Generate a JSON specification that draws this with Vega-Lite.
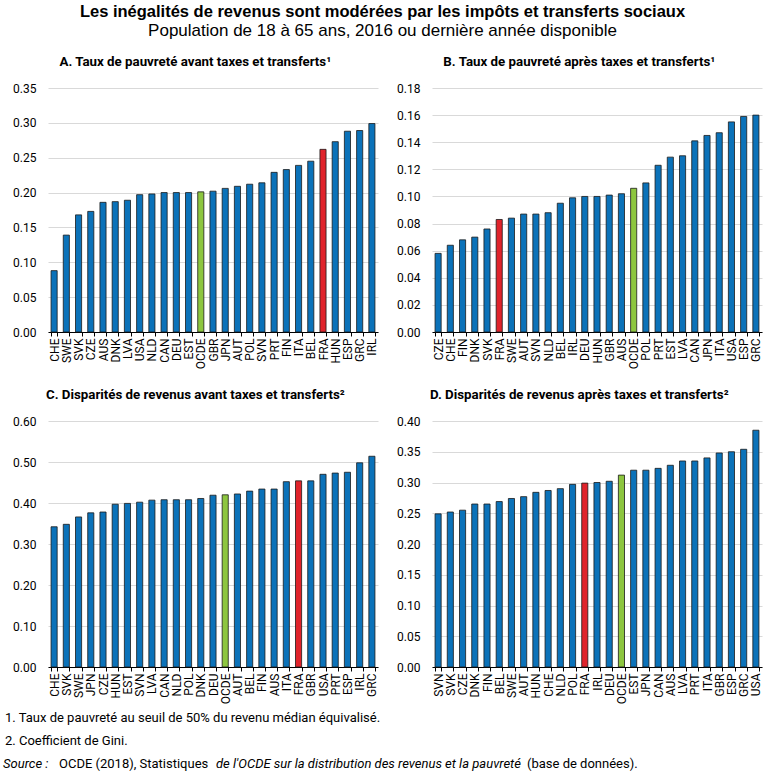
{
  "$schema": "https://vega.github.io/schema/vega-lite/v6.json",
  "padding": {"left": 3, "top": 4, "right": 3, "bottom": 0},
  "background": "white",
  "title": {
    "text": "Les inégalités de revenus sont modérées par les impôts et transferts sociaux",
    "subtitle": "Population de 18 à 65 ans, 2016 ou dernière année disponible",
    "anchor": "middle",
    "frame": "bounds",
    "font": "Liberation Sans",
    "fontSize": 16.5,
    "fontWeight": "bold",
    "color": "black",
    "subtitleFont": "Liberation Sans",
    "subtitleFontSize": 17,
    "subtitleColor": "black",
    "subtitlePadding": 2,
    "offset": 16
  },
  "config": {
    "view": {"stroke": null},
    "font": "Roboto",
    "axis": {"labelFont": "Roboto", "labelFontSize": 12, "labelColor": "black"},
    "axisX": {"title": null, "labelAngle": -90, "labelAlign": "right", "labelBaseline": "middle", "tickBand": "extent", "domainColor": "black", "tickColor": "black", "tickSize": 4, "labelPadding": 2, "grid": false},
    "axisY": {"title": null, "domain": false, "ticks": false, "gridColor": "#d9d9d9", "format": ".2f", "labelPadding": 12},
    "title": {"font": "Roboto", "fontSize": 13.3, "fontWeight": "bold", "color": "black", "offset": 14, "frame": "bounds", "anchor": "middle"},
    "bar": {"stroke": "#1a1a1a", "strokeWidth": 0.8},
    "scale": {"bandPaddingInner": 0.5, "bandPaddingOuter": 0.25}
  },
  "datasets": {
    "A": [
      {"pays": "CHE", "valeur": 0.088}, {"pays": "SWE", "valeur": 0.139}, {"pays": "SVK", "valeur": 0.168},
      {"pays": "CZE", "valeur": 0.173}, {"pays": "AUS", "valeur": 0.186}, {"pays": "DNK", "valeur": 0.187},
      {"pays": "LVA", "valeur": 0.189}, {"pays": "USA", "valeur": 0.197}, {"pays": "NLD", "valeur": 0.198},
      {"pays": "CAN", "valeur": 0.200}, {"pays": "DEU", "valeur": 0.200}, {"pays": "EST", "valeur": 0.200},
      {"pays": "OCDE", "valeur": 0.201}, {"pays": "GBR", "valeur": 0.202}, {"pays": "JPN", "valeur": 0.206},
      {"pays": "AUT", "valeur": 0.209}, {"pays": "POL", "valeur": 0.212}, {"pays": "SVN", "valeur": 0.214},
      {"pays": "PRT", "valeur": 0.229}, {"pays": "FIN", "valeur": 0.233}, {"pays": "ITA", "valeur": 0.239},
      {"pays": "BEL", "valeur": 0.245}, {"pays": "FRA", "valeur": 0.262}, {"pays": "HUN", "valeur": 0.273},
      {"pays": "ESP", "valeur": 0.288}, {"pays": "GRC", "valeur": 0.289}, {"pays": "IRL", "valeur": 0.299}
    ],
    "B": [
      {"pays": "CZE", "valeur": 0.058}, {"pays": "CHE", "valeur": 0.064}, {"pays": "FIN", "valeur": 0.068},
      {"pays": "DNK", "valeur": 0.070}, {"pays": "SVK", "valeur": 0.076}, {"pays": "FRA", "valeur": 0.083},
      {"pays": "SWE", "valeur": 0.084}, {"pays": "AUT", "valeur": 0.087}, {"pays": "SVN", "valeur": 0.087},
      {"pays": "NLD", "valeur": 0.088}, {"pays": "BEL", "valeur": 0.095}, {"pays": "IRL", "valeur": 0.099},
      {"pays": "DEU", "valeur": 0.100}, {"pays": "HUN", "valeur": 0.100}, {"pays": "GBR", "valeur": 0.101},
      {"pays": "AUS", "valeur": 0.102}, {"pays": "OCDE", "valeur": 0.106}, {"pays": "POL", "valeur": 0.110},
      {"pays": "PRT", "valeur": 0.123}, {"pays": "EST", "valeur": 0.129}, {"pays": "LVA", "valeur": 0.130},
      {"pays": "CAN", "valeur": 0.141}, {"pays": "JPN", "valeur": 0.145}, {"pays": "ITA", "valeur": 0.147},
      {"pays": "USA", "valeur": 0.155}, {"pays": "ESP", "valeur": 0.159}, {"pays": "GRC", "valeur": 0.160}
    ],
    "C": [
      {"pays": "CHE", "valeur": 0.342}, {"pays": "SVK", "valeur": 0.348}, {"pays": "SWE", "valeur": 0.366},
      {"pays": "JPN", "valeur": 0.376}, {"pays": "CZE", "valeur": 0.378}, {"pays": "HUN", "valeur": 0.397},
      {"pays": "EST", "valeur": 0.399}, {"pays": "SVN", "valeur": 0.402}, {"pays": "LVA", "valeur": 0.407},
      {"pays": "CAN", "valeur": 0.408}, {"pays": "NLD", "valeur": 0.408}, {"pays": "POL", "valeur": 0.408},
      {"pays": "DNK", "valeur": 0.411}, {"pays": "DEU", "valeur": 0.419}, {"pays": "OCDE", "valeur": 0.420},
      {"pays": "AUT", "valeur": 0.422}, {"pays": "BEL", "valeur": 0.429}, {"pays": "FIN", "valeur": 0.434},
      {"pays": "AUS", "valeur": 0.434}, {"pays": "ITA", "valeur": 0.452}, {"pays": "FRA", "valeur": 0.454},
      {"pays": "GBR", "valeur": 0.454}, {"pays": "USA", "valeur": 0.470}, {"pays": "PRT", "valeur": 0.473},
      {"pays": "ESP", "valeur": 0.475}, {"pays": "IRL", "valeur": 0.498}, {"pays": "GRC", "valeur": 0.514}
    ],
    "D": [
      {"pays": "SVN", "valeur": 0.249}, {"pays": "SVK", "valeur": 0.252}, {"pays": "CZE", "valeur": 0.255},
      {"pays": "DNK", "valeur": 0.265}, {"pays": "FIN", "valeur": 0.265}, {"pays": "BEL", "valeur": 0.269},
      {"pays": "SWE", "valeur": 0.274}, {"pays": "AUT", "valeur": 0.277}, {"pays": "HUN", "valeur": 0.284},
      {"pays": "CHE", "valeur": 0.287}, {"pays": "NLD", "valeur": 0.290}, {"pays": "POL", "valeur": 0.297},
      {"pays": "FRA", "valeur": 0.299}, {"pays": "IRL", "valeur": 0.300}, {"pays": "DEU", "valeur": 0.302},
      {"pays": "OCDE", "valeur": 0.312}, {"pays": "EST", "valeur": 0.320}, {"pays": "JPN", "valeur": 0.320},
      {"pays": "CAN", "valeur": 0.323}, {"pays": "AUS", "valeur": 0.328}, {"pays": "LVA", "valeur": 0.335},
      {"pays": "PRT", "valeur": 0.335}, {"pays": "ITA", "valeur": 0.340}, {"pays": "GBR", "valeur": 0.348},
      {"pays": "ESP", "valeur": 0.350}, {"pays": "GRC", "valeur": 0.354}, {"pays": "USA", "valeur": 0.385}
    ],
    "notes": [
      {"ligne": 1, "texte": "1. Taux de pauvreté au seuil de 50% du revenu médian équivalisé."},
      {"ligne": 2, "texte": "2. Coefficient de Gini."}
    ]
  },
  "vconcat": [
    {
      "vconcat": [
        {
          "hconcat": [
            {
              "data": {"name": "A"},
              "width": 330, "height": 244,
              "title": "A. Taux de pauvreté avant taxes et transferts¹",
              "mark": {"type": "bar"},
              "encoding": {
                "x": {"field": "pays", "type": "nominal", "sort": null},
                "y": {"field": "valeur", "type": "quantitative", "scale": {"domain": [0, 0.35], "nice": false}, "axis": {"values": [0, 0.05, 0.1, 0.15, 0.2, 0.25, 0.3, 0.35]}},
                "color": {"condition": [{"test": "datum.pays === 'FRA'", "value": "#e0232b"}, {"test": "datum.pays === 'OCDE'", "value": "#8dc63f"}], "value": "#0b72b9"}
              }
            },
            {
              "data": {"name": "B"},
              "width": 330, "height": 244,
              "title": "B. Taux de pauvreté après taxes et transferts¹",
              "mark": {"type": "bar"},
              "encoding": {
                "x": {"field": "pays", "type": "nominal", "sort": null},
                "y": {"field": "valeur", "type": "quantitative", "scale": {"domain": [0, 0.18], "nice": false}, "axis": {"values": [0, 0.02, 0.04, 0.06, 0.08, 0.1, 0.12, 0.14, 0.16, 0.18]}},
                "color": {"condition": [{"test": "datum.pays === 'FRA'", "value": "#e0232b"}, {"test": "datum.pays === 'OCDE'", "value": "#8dc63f"}], "value": "#0b72b9"}
              }
            }
          ],
          "spacing": 18
        },
        {
          "hconcat": [
            {
              "data": {"name": "C"},
              "width": 330, "height": 246,
              "title": "C. Disparités de revenus avant taxes et transferts²",
              "mark": {"type": "bar"},
              "encoding": {
                "x": {"field": "pays", "type": "nominal", "sort": null},
                "y": {"field": "valeur", "type": "quantitative", "scale": {"domain": [0, 0.6], "nice": false}, "axis": {"values": [0, 0.1, 0.2, 0.3, 0.4, 0.5, 0.6]}},
                "color": {"condition": [{"test": "datum.pays === 'FRA'", "value": "#e0232b"}, {"test": "datum.pays === 'OCDE'", "value": "#8dc63f"}], "value": "#0b72b9"}
              }
            },
            {
              "data": {"name": "D"},
              "width": 330, "height": 246,
              "title": "D. Disparités de revenus après taxes et transferts²",
              "mark": {"type": "bar"},
              "encoding": {
                "x": {"field": "pays", "type": "nominal", "sort": null},
                "y": {"field": "valeur", "type": "quantitative", "scale": {"domain": [0, 0.4], "nice": false}, "axis": {"values": [0, 0.05, 0.1, 0.15, 0.2, 0.25, 0.3, 0.35, 0.4]}},
                "color": {"condition": [{"test": "datum.pays === 'FRA'", "value": "#e0232b"}, {"test": "datum.pays === 'OCDE'", "value": "#8dc63f"}], "value": "#0b72b9"}
              }
            }
          ],
          "spacing": 18
        }
      ],
      "spacing": 18
    },
    {
      "width": 700, "height": 70,
      "layer": [
        {
          "data": {"name": "notes"},
          "mark": {"type": "text", "align": "left", "baseline": "middle", "fontSize": 13, "font": "Roboto", "color": "black", "dx": -43},
          "encoding": {
            "y": {"field": "ligne", "type": "ordinal", "axis": null, "scale": {"domain": [1, 2, 3]}},
            "x": {"value": 0},
            "text": {"field": "texte"}
          }
        },
        {
          "data": {"values": [{"ligne": 3, "texte": "Source :"}]},
          "mark": {"type": "text", "align": "left", "baseline": "middle", "fontSize": 13, "font": "Roboto", "fontStyle": "italic", "color": "black", "dx": -45},
          "encoding": {"y": {"field": "ligne", "type": "ordinal", "axis": null}, "x": {"value": 0}, "text": {"field": "texte"}}
        },
        {
          "data": {"values": [{"ligne": 3, "texte": "OCDE (2018), Statistiques"}]},
          "mark": {"type": "text", "align": "left", "baseline": "middle", "fontSize": 13, "font": "Roboto", "color": "black", "dx": 11},
          "encoding": {"y": {"field": "ligne", "type": "ordinal", "axis": null}, "x": {"value": 0}, "text": {"field": "texte"}}
        },
        {
          "data": {"values": [{"ligne": 3, "texte": "de l'OCDE sur la distribution des revenus et la pauvreté"}]},
          "mark": {"type": "text", "align": "left", "baseline": "middle", "fontSize": 13, "font": "Roboto", "fontStyle": "italic", "color": "black", "dx": 168},
          "encoding": {"y": {"field": "ligne", "type": "ordinal", "axis": null}, "x": {"value": 0}, "text": {"field": "texte"}}
        },
        {
          "data": {"values": [{"ligne": 3, "texte": "(base de données)."}]},
          "mark": {"type": "text", "align": "left", "baseline": "middle", "fontSize": 13, "font": "Roboto", "color": "black", "dx": 479},
          "encoding": {"y": {"field": "ligne", "type": "ordinal", "axis": null}, "x": {"value": 0}, "text": {"field": "texte"}}
        }
      ]
    }
  ],
  "spacing": 2
}
